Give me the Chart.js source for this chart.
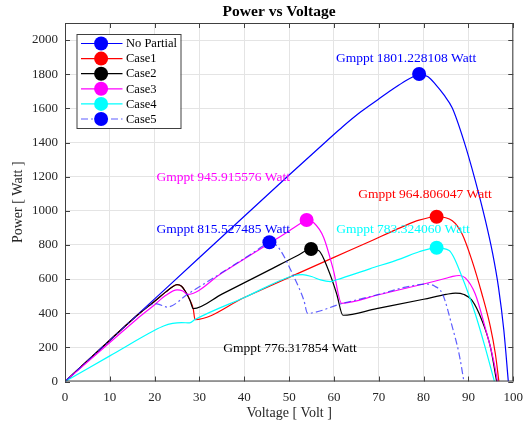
<!DOCTYPE html>
<html>
<head>
<meta charset="utf-8">
<script src="https://cdn.jsdelivr.net/npm/chart.js@4.4.1/dist/chart.umd.min.js"></script>
<style>
  html, body { margin: 0; padding: 0; background: #fff; }
</style>
</head>
<body>
<canvas id="pvChart" width="531" height="425"></canvas>
<script>
// Values (Voltage in V, Power in W)
const seriesNames = ['No Partial', 'Case1', 'Case2', 'Case3', 'Case4', 'Case5'];

const noPartialV = [0, 10, 20, 30, 40, 50, 58.5, 62, 66, 70, 73, 76, 78, 79, 81, 82.7, 84.5, 86.4, 89, 91.5, 93.8, 95.4, 96.7, 97.9, 98.9];
const noPartialP = [0, 242, 484, 726, 968, 1210, 1412, 1494, 1580, 1655, 1710, 1762, 1790, 1801, 1785, 1739, 1680, 1602, 1408, 1180, 942, 750, 553, 300, 0];

const case1V = [0, 10, 16, 20, 22.5, 24, 25, 26, 26.8, 27.9, 28.6, 29, 40, 50, 60, 68, 75, 79, 82.9, 86.4, 88.6, 90.8, 93, 94.9, 96, 96.8];
const case1P = [0, 242, 385, 470, 525, 555, 567, 558, 530, 475, 427, 363, 492, 610, 727, 820, 903, 945, 965, 942, 864, 708, 514, 320, 164, 0];

const case2V = [0, 10, 16, 20, 22.5, 24, 25, 26, 26.8, 27.9, 28.6, 35, 45, 52, 54.9, 56.6, 58.8, 60.6, 62, 69.5, 80, 85, 87.1, 89, 90.8, 93, 94.9, 96.3];
const case2P = [0, 242, 385, 470, 525, 555, 567, 558, 530, 475, 427, 512, 645, 740, 777, 767, 650, 514, 388, 427, 482, 510, 518, 510, 475, 359, 203, 0];

const case3V = [0, 10, 16, 20, 22.5, 25, 26.3, 27.3, 35, 45, 50, 52.5, 53.9, 55.5, 57.7, 59.9, 61.7, 70, 80, 85, 86.5, 87.9, 89.3, 91.5, 93.7, 95.6, 96.5];
const case3P = [0, 228, 365, 450, 505, 537, 530, 510, 636, 800, 882, 925, 946, 930, 844, 650, 458, 508, 571, 605, 616, 621, 607, 514, 320, 125, 0];

const case4V = [0, 10, 20, 22, 24, 26, 27.8, 29, 40, 51.1, 53, 55, 57, 59.2, 60.6, 68, 75, 79, 82.9, 85.7, 88.6, 91.5, 93.7, 95.8];
const case4P = [0, 150, 300, 325, 340, 345, 343, 363, 492, 621, 626, 615, 595, 585, 596, 660, 720, 760, 783, 767, 611, 398, 203, 0];

const case5V = [0, 10, 16, 19.4, 20.5, 22.8, 27.5, 35, 42, 44.5, 45.6, 46.8, 48.1, 51.1, 53.3, 54.1, 61.7, 70, 76, 79, 81, 82.5, 84.2, 86.4, 87.9, 89];
const case5P = [0, 242, 385, 452, 455, 436, 514, 638, 755, 800, 815, 805, 767, 611, 475, 400, 456, 510, 553, 568, 570, 558, 514, 320, 164, 0];

// Global MPP of each case
const peakV = [79.0, 82.9, 54.9, 53.9, 82.9, 45.6];
const peakP = [1801.228108, 964.806047, 776.317854, 945.915576, 783.324060, 815.527485];

const xTicks = [0, 10, 20, 30, 40, 50, 60, 70, 80, 90, 100];
const yTicks = [0, 200, 400, 600, 800, 1000, 1200, 1400, 1600, 1800, 2000];

// styling
const colors = ['#0000ff', '#ff0000', '#000000', '#ff00ff', '#00ffff', 'rgba(40,40,255,0.75)'];
const markerColors = ['#0000ff', '#ff0000', '#000000', '#ff00ff', '#00ffff', '#0000ff'];
const dashes = [[], [], [], [], [], [7, 3, 2, 3]];
// where each Gmppt text sits (data units: centre x, centre y)
const labelAt = [[76.1, 1894], [80.3, 1093], [50.2, 193], [35.3, 1194], [75.4, 893], [35.3, 893]];

const seriesV = [noPartialV, case1V, case2V, case3V, case4V, case5V];
const seriesP = [noPartialP, case1P, case2P, case3P, case4P, case5P];

const serif = '"Liberation Serif", "Times New Roman", serif';

const datasets = [];
seriesNames.forEach((name, i) => {
    datasets.push({
        label: name,
        data: seriesV[i].map((v, k) => ({ x: v, y: seriesP[i][k] })),
        borderColor: colors[i],
        borderWidth: 1.2,
        borderDash: dashes[i],
        pointRadius: 0,
        fill: false,
        cubicInterpolationMode: 'monotone',
        order: 10 - i
    });
});
seriesNames.forEach((name, i) => {
    datasets.push({
        label: name + ' peak',
        data: [{ x: peakV[i], y: peakP[i] }],
        showLine: false,
        pointRadius: 7,
        pointHoverRadius: 7,
        pointBackgroundColor: markerColors[i],
        pointBorderColor: markerColors[i],
        borderWidth: 0,
        order: 0
    });
});

// frame with inward ticks, title, Gmppt texts and the legend box
const decorations = {
    id: 'decorations',
    afterDatasetsDraw(chart) {
        const ctx = chart.ctx;
        const a = chart.chartArea;
        const xs = chart.scales.x, ys = chart.scales.y;
        ctx.save();

        ctx.strokeStyle = '#404040';
        ctx.lineWidth = 1;
        ctx.strokeRect(a.left + 0.5, a.top + 0.5, a.right - a.left - 1, a.bottom - a.top - 1);
        ctx.beginPath();
        xTicks.forEach(v => {
            const px = Math.round(xs.getPixelForValue(v)) + 0.5;
            ctx.moveTo(px, a.bottom); ctx.lineTo(px, a.bottom - 5);
            ctx.moveTo(px, a.top); ctx.lineTo(px, a.top + 5);
        });
        yTicks.forEach(v => {
            const py = Math.round(ys.getPixelForValue(v)) + 0.5;
            ctx.moveTo(a.left, py); ctx.lineTo(a.left + 5, py);
            ctx.moveTo(a.right, py); ctx.lineTo(a.right - 5, py);
        });
        ctx.stroke();

        // title
        ctx.fillStyle = '#000';
        ctx.font = 'bold 15.5px ' + serif;
        ctx.textAlign = 'center';
        ctx.textBaseline = 'middle';
        ctx.fillText('Power vs Voltage', (a.left + a.right) / 2 - 10, 12);

        // Gmppt texts
        ctx.font = '13.5px ' + serif;
        peakP.forEach((p, i) => {
            ctx.fillStyle = markerColors[i];
            ctx.fillText('Gmppt ' + p.toFixed(6) + ' Watt',
                xs.getPixelForValue(labelAt[i][0]), ys.getPixelForValue(labelAt[i][1]));
        });

        // legend
        const bx = a.left + 11.5, by = a.top + 11, bw = 104, bh = 94;
        ctx.fillStyle = '#fff';
        ctx.fillRect(bx, by, bw, bh);
        ctx.strokeStyle = '#404040';
        ctx.strokeRect(bx + 0.5, by + 0.5, bw, bh);
        ctx.font = '12.5px ' + serif;
        ctx.textAlign = 'left';
        seriesNames.forEach((name, i) => {
            const ry = by + 9.5 + i * 15.1;
            ctx.strokeStyle = colors[i];
            ctx.lineWidth = 1.2;
            ctx.setLineDash(dashes[i]);
            ctx.beginPath();
            ctx.moveTo(bx + 4.5, ry); ctx.lineTo(bx + 46, ry);
            ctx.stroke();
            ctx.setLineDash([]);
            ctx.fillStyle = markerColors[i];
            ctx.beginPath();
            ctx.arc(bx + 24.6, ry, 7, 0, Math.PI * 2);
            ctx.fill();
            ctx.fillStyle = '#000';
            ctx.fillText(name, bx + 49.5, ry + 0.5);
        });
        ctx.restore();
    }
};

new Chart(document.getElementById('pvChart'), {
    type: 'line',
    data: { datasets: datasets },
    options: {
        responsive: false,
        animation: false,
        layout: { padding: { top: 23, right: 13, left: 0, bottom: 0 } },
        plugins: {
            legend: { display: false },
            title: { display: false },
            tooltip: { enabled: false }
        },
        scales: {
            x: {
                type: 'linear',
                min: 0,
                max: 100,
                afterFit: s => { s.height = 43.5; },
                afterBuildTicks: s => { s.ticks = xTicks.map(v => ({ value: v })); },
                grid: { color: '#e4e4e4', drawTicks: false },
                border: { display: false },
                ticks: {
                    padding: 8, color: '#262626', font: { family: serif, size: 13 },
                    callback: v => String(v)
                },
                title: {
                    display: true,
                    text: 'Voltage [ Volt ]',
                    color: '#262626',
                    font: { family: serif, size: 14 },
                    padding: { top: 0, bottom: 3 }
                }
            },
            y: {
                min: 0,
                max: 2100,
                afterFit: s => { s.width = 65; },
                afterBuildTicks: s => { s.ticks = yTicks.map(v => ({ value: v })); },
                grid: { color: '#e4e4e4', drawTicks: false },
                border: { display: false },
                ticks: {
                    padding: 7, color: '#262626', font: { family: serif, size: 13 },
                    callback: v => String(v)
                },
                title: {
                    display: true,
                    text: 'Power [ Watt ]',
                    color: '#262626',
                    font: { family: serif, size: 14 },
                    padding: { top: 10, bottom: 0 }
                }
            }
        }
    },
    plugins: [decorations]
});
</script>
</body>
</html>
